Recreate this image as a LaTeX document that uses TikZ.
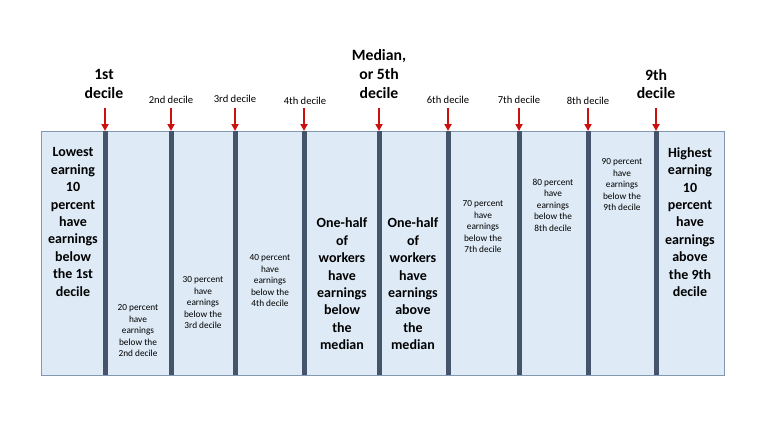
\documentclass[tikz,border=0pt]{standalone}
\usepackage{fontspec}
\setmainfont{Carlito}
\usetikzlibrary{arrows.meta}
\definecolor{band}{RGB}{222,235,247}
\definecolor{frame}{RGB}{132,151,176}
\definecolor{bar}{RGB}{68,84,106}
\definecolor{pointer}{RGB}{204,16,16}

\begin{document}
\begin{tikzpicture}[x=1pt, y=1pt,
      big/.style={font=\bfseries\fontsize{14}{17.4}\selectfont, align=center, inner sep=0pt},
      small/.style={font=\fontsize{9.3}{11.5}\selectfont, align=center, inner sep=0pt},
      tag/.style={font=\fontsize{10.6}{12}\selectfont, inner sep=0pt},
      bigtag/.style={font=\bfseries\fontsize{15.7}{18.8}\selectfont, align=center, inner sep=0pt},
      divider/.style={line width=5pt, bar},
      arr/.style={-{Triangle[length=7pt, width=7pt]}, line width=2pt, pointer}]
    \useasboundingbox (0,0) rectangle (768,432);
    \node[draw=frame, fill=band, line width=0.8pt, minimum width=683pt, minimum height=244pt,
      inner sep=0pt, anchor=north west] (box) at (41,301) {};
    % dividers at the decile boundaries
    \foreach \n/\x in {1/105,2/171,3/235,4/304,5/379,6/448,7/519,8/588,9/656} {
      \coordinate (top\n) at (\x,301);
      \coordinate (bot\n) at (\x,57);
      \coordinate (src\n) at (\x,324);
      \draw[divider] (top\n) -- (bot\n);
      \draw[arr] (src\n) -- (top\n);
    }
    % decile labels
    \node[bigtag] (l1) at (104,348) {1st\\decile};
    \node[tag] (l2) at (171,332) {2nd decile};
    \node[tag] (l3) at (235,333) {3rd decile};
    \node[tag] (l4) at (305,331) {4th decile};
    \node[bigtag] (l5) at (379,358) {Median,\\or 5th\\decile};
    \node[tag] (l6) at (448,332) {6th decile};
    \node[tag] (l7) at (519,332) {7th decile};
    \node[tag] (l8) at (588,331) {8th decile};
    \node[bigtag] (l9) at (656,348) {9th\\decile};
    % column texts
    \node[big] (c1) at (73,210) {Lowest\\earning\\10\\percent\\have\\earnings\\below\\the 1st\\decile};
    \node[small] (c2) at (138,101) {20 percent\\have\\earnings\\below the\\2nd decile};
    \node[small] (c3) at (203,129) {30 percent\\have\\earnings\\below the\\3rd decile};
    \node[small] (c4) at (270,151) {40 percent\\have\\earnings\\below the\\4th decile};
    \node[big] (c5) at (342,148) {One-half\\of\\workers\\have\\earnings\\below\\the\\median};
    \node[big] (c6) at (413,148) {One-half\\of\\workers\\have\\earnings\\above\\the\\median};
    \node[small] (c7) at (483,205) {70 percent\\have\\earnings\\below the\\7th decile};
    \node[small] (c8) at (553,227) {80 percent\\have\\earnings\\below the\\8th decile};
    \node[small] (c9) at (622,247) {90 percent\\have\\earnings\\below the\\9th decile};
    \node[big] (c10) at (690,210) {Highest\\earning\\10\\percent\\have\\earnings\\above\\the 9th\\decile};
  \end{tikzpicture}
\end{document}
